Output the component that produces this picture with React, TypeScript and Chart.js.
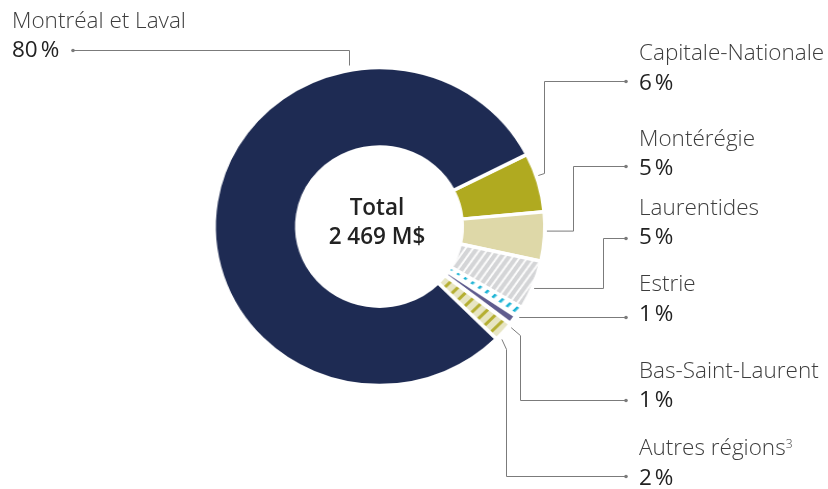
import React, { useEffect, useRef } from 'react';
import { Chart, registerables } from 'chart.js';

Chart.register(...registerables);

// ---- data ----
const categories = [
  'Capitale-Nationale',
  'Montérégie',
  'Laurentides',
  'Estrie',
  'Bas-Saint-Laurent',
  'Autres régions',
  'Montréal et Laval',
];
const shares = [6, 5, 5, 1, 1, 2, 80];
const footnotes = ['', '', '', '', '', '3', ''];
const totalTitle = 'Total';
const totalValue = '2 469 M$';

// ---- styles / layout ----
const FONT = "'Open Sans', 'Noto Sans', sans-serif";
const NAVY = '#1e2b53';
const OLIVE = '#b0aa20';
const BEIGE = '#ded8a8';
const LINE = '#7b7b7b';

const W = 828;
const H = 489;
const SX = 1.0402; // horizontal stretch of the drawing
const CW = Math.round(W / SX);

const borderWidths = [3.5, 3.5, 3.5, 3, 4.5, 3.5, 3.5];
const anchorDeg = [71.5, 91.6, 112.6, 124.1, 128.6, 133.8, -10.3];
const anchorGap = [2, 2, 2, 3, 3, 4, 5];
const kneeX: (number | null)[] = [544, 573, 603, null, 520, 506, null];
const kneeDy = [-2, 0, 0, 0, 8, 10, 0];
const targetY = [81, 166, 238, 317, 400, 476, 50];
const dotX = [626, 626, 626, 626, 626, 626, 73];
const labelX = [639, 639, 639, 639, 639, 639, 12];
const nameBase = [61, 147, 216, 292, 379, 456, 29];
const pctBase = [91, 176, 245, 322, 408, 486, 58];
const FS = 22.5;

function stripes(bg: string, fg: string, period: number, width: number, angle: number) {
  const c = document.createElement('canvas');
  c.width = period;
  c.height = period;
  const g = c.getContext('2d')!;
  g.fillStyle = bg;
  g.fillRect(0, 0, period, period);
  g.fillStyle = fg;
  g.fillRect(0, 0, width, period);
  const pat = g.createPattern(c, 'repeat')!;
  pat.setTransform(new DOMMatrix().rotateSelf(angle));
  return pat;
}

export default function App() {
  const ref = useRef<HTMLCanvasElement>(null);
  const overlayRef = useRef<HTMLCanvasElement>(null);
  useEffect(() => {
    const leaderPlugin = {
      id: 'leaders',
      afterDraw(chart: any) {
        const ov = overlayRef.current;
        if (!ov) return;
        const ctx = ov.getContext('2d')!;
        ctx.clearRect(0, 0, W, H);
        const meta = chart.getDatasetMeta(0);
        ctx.save();
        ctx.strokeStyle = LINE;
        ctx.fillStyle = LINE;
        ctx.lineWidth = 1;
        meta.data.forEach((arc: any, i: number) => {
          const p = arc.getProps(['x', 'y', 'outerRadius'], true);
          const a = ((anchorDeg[i] - 90) * Math.PI) / 180;
          const r0 = p.outerRadius + anchorGap[i];
          const x0 = (p.x + Math.cos(a) * r0) * SX;
          const y0 = p.y + Math.sin(a) * r0;
          const kx = kneeX[i] == null ? Math.round(x0) + 0.5 : (kneeX[i] as number) + 0.5;
          const ky = y0 + kneeDy[i];
          const ty = targetY[i] + 0.5;
          ctx.beginPath();
          ctx.moveTo(x0, y0);
          ctx.lineTo(kx, ky);
          ctx.lineTo(kx, ty);
          ctx.lineTo(dotX[i], ty);
          ctx.stroke();
          ctx.beginPath();
          ctx.arc(dotX[i], ty, 1.8, 0, Math.PI * 2);
          ctx.fill();
        });
        ctx.restore();
      },
    };
    const colors = [
      OLIVE,
      BEIGE,
      stripes('#ffffff', '#d4d5d7', 6.5, 4.2, 35),
      stripes('#ffffff', '#1ab3d5', 8.5, 2.6, 45),
      '#5f5c8e',
      stripes('#e7e5c3', '#b5af32', 9, 3, 45),
      NAVY,
    ];
    const centerX = 379.5 / SX;
    const centerY = 226.6;
    const chart = new Chart(ref.current!, {
      type: 'doughnut',
      data: {
        labels: categories,
        datasets: [
          {
            data: shares,
            backgroundColor: colors as any,
            borderColor: '#ffffff',
            borderWidth: borderWidths,
          },
        ],
      },
      options: {
        responsive: false,
        animation: false,
        events: [],
        rotation: 63,
        radius: 159,
        cutout: '50%',
        layout: {
          padding: { left: 0, right: CW - 2 * centerX, top: 0, bottom: H - 2 * centerY },
        },
        plugins: { legend: { display: false }, tooltip: { enabled: false } },
      } as any,
      plugins: [leaderPlugin],
    });
    return () => chart.destroy();
  }, []);

  const textStyle = (x: number, base: number, weight: number, color: string): React.CSSProperties => ({
    position: 'absolute',
    left: x,
    top: base - 0.888 * FS,
    fontFamily: FONT,
    fontSize: FS,
    lineHeight: `${FS}px`,
    fontWeight: weight,
    color,
    whiteSpace: 'nowrap',
  });

  const centerStyle = (base: number): React.CSSProperties => ({
    position: 'absolute',
    left: 277,
    width: 200,
    top: base - 0.888 * FS,
    textAlign: 'center',
    fontFamily: FONT,
    fontSize: FS,
    lineHeight: `${FS}px`,
    fontWeight: 600,
    color: '#222',
  });

  return (
    <div style={{ position: 'fixed', left: 0, top: 0, width: W, height: H, background: '#fff', overflow: 'hidden' }}>
      <canvas
        ref={ref}
        width={CW}
        height={H}
        style={{ position: 'absolute', left: 0, top: 0, width: `${W}px`, height: `${H}px` }}
      />
      <canvas
        ref={overlayRef}
        width={W}
        height={H}
        style={{ position: 'absolute', left: 0, top: 0, width: `${W}px`, height: `${H}px` }}
      />
      {categories.map((c, i) => (
        <React.Fragment key={c}>
          <div style={textStyle(labelX[i], nameBase[i], 300, '#3d3d3d')}>
            {c}
            {footnotes[i] ? (
              <span style={{ fontSize: 12, verticalAlign: 'top', position: 'relative', top: -3 }}>{footnotes[i]}</span>
            ) : null}
          </div>
          <div style={textStyle(labelX[i], pctBase[i], 400, '#222222')}>{`${shares[i]}\u202F%`}</div>
        </React.Fragment>
      ))}
      <div style={centerStyle(216)}>{totalTitle}</div>
      <div style={centerStyle(245)}>{totalValue}</div>
    </div>
  );
}
